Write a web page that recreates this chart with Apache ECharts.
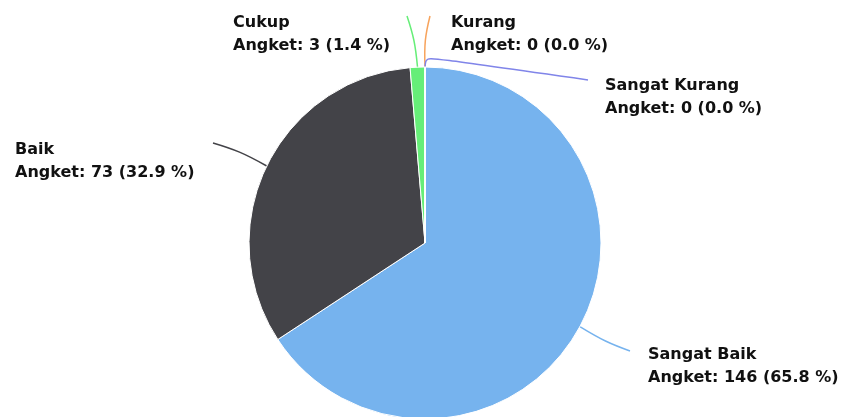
<!DOCTYPE html>
<html>
<head>
<meta charset="utf-8">
<script src="https://cdn.jsdelivr.net/npm/echarts@6/dist/echarts.min.js"></script>
<style>
html,body{margin:0;padding:0;background:#fff;}
#chart{width:847px;height:417px;}
</style>
</head>
<body>
<div id="chart"></div>
<script>
// Data
const categories = ['Sangat Baik', 'Baik', 'Cukup', 'Kurang', 'Sangat Kurang'];
const values = [146, 73, 3, 0, 0];
const seriesName = 'Angket';

// Styles (kept apart from data)
const colors = ['#76b3ee', '#434348', '#66ee78', '#f7a35c', '#8085e9'];
const labelSpots = [
  { x: 648, y: 366, mid: [605, 342], end: [630, 351] },
  { x: 15,  y: 161, mid: [240, 151], end: [213, 143] },
  { x: 233, y: 34,  mid: [415, 40],  end: [407, 16] },
  { x: 451, y: 34,  mid: [424, 40],  end: [430, 16] },
  { x: 605, y: 97,  mid: [426, 57],  end: [588, 80] }
];

const total = values.reduce((a, b) => a + b, 0);
const chart = echarts.init(document.getElementById('chart'), null, { renderer: 'canvas' });

chart.setOption({
  animation: false,
  color: colors,
  series: [{
    type: 'pie',
    name: seriesName,
    center: [425, 243],
    radius: [0, 176],
    startAngle: 90,
    clockwise: true,
    avoidLabelOverlap: false,
    itemStyle: { borderColor: '#ffffff', borderWidth: 1 },
    label: {
      show: true,
      formatter: function (p) {
        return p.name + '\n' + seriesName + ': ' + p.value + ' (' + (p.value / total * 100).toFixed(1) + ' %)';
      },
      fontFamily: 'DejaVu Sans',
      fontWeight: 'bold',
      fontSize: 16,
      lineHeight: 23,
      color: '#111111'
    },
    labelLine: { show: true, smooth: 0.4, lineStyle: { width: 1.5 } },
    labelLayout: function (params) {
      const s = labelSpots[params.dataIndex];
      const pts = params.labelLinePoints;
      const start = pts ? pts[0] : s.mid;
      return {
        x: s.x, y: s.y, align: 'left', verticalAlign: 'middle',
        labelLinePoints: [start, s.mid, s.end]
      };
    },
    data: categories.map((c, i) => ({ name: c, value: values[i] }))
  }]
});
</script>
</body>
</html>
